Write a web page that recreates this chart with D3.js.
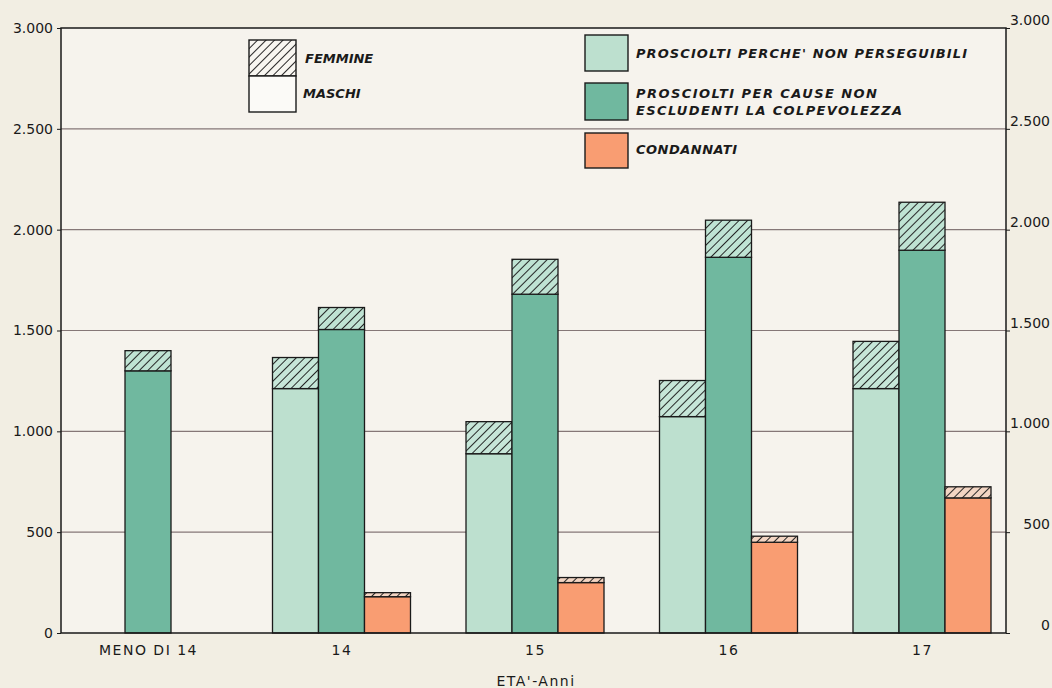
<!DOCTYPE html>
<html>
<head>
<meta charset="utf-8">
<script src="https://cdn.jsdelivr.net/npm/d3@7"></script>
<style>
  body { margin: 0; background: #f2eee3; }
  svg { display: block; }
  text { font-family: "DejaVu Sans", sans-serif; fill: #1a1a1a; }
  .leg { font-style: italic; font-weight: bold; font-size: 13px; }
</style>
</head>
<body>
<svg width="1052" height="688"></svg>
<script>
// eta' groups
const categories = ['MENO DI 14', '14', '15', '16', '17'];
// prosciolti perche' non perseguibili
const perseguibiliM = [0, 1212, 889, 1073, 1212];
const perseguibiliF = [0, 154, 159, 179, 234];
// prosciolti per cause non escludenti la colpevolezza
const colpevolezzaM = [1300, 1505, 1680, 1863, 1898];
const colpevolezzaF = [100, 109, 173, 184, 238];
// condannati
const condannatiM = [0, 180, 250, 450, 670];
const condannatiF = [0, 20, 25, 30, 55];
const yTicks = [0, 500, 1000, 1500, 2000, 2500, 3000];

const series = [
  {key: 'pers', m: perseguibiliM, f: perseguibiliF, color: '#bde0cf', hatchBg: '#c6e6d8'},
  {key: 'colp', m: colpevolezzaM, f: colpevolezzaF, color: '#70b89f', hatchBg: '#bfe3d3'},
  {key: 'cond', m: condannatiM, f: condannatiF, color: '#f99d72', hatchBg: '#f3d5c3'}
];

const svg = d3.select('svg');
const mLeft = 61, mRight = 1006, mTop = 28, mBottom = 633;

const itFmt = d3.formatLocale({decimal: ',', thousands: '.', grouping: [3], currency: ['', '']}).format(',d');

const y = d3.scaleLinear().domain([0, 3000]).range([mBottom, mTop]);
const x = d3.scalePoint().domain(categories).range([148, 922]);
const xs = d3.scaleBand().domain(series.map(s => s.key)).range([-69, 69]).padding(0);

// hatch patterns
const defs = svg.append('defs');
function hatch(id, bg) {
  const p = defs.append('pattern').attr('id', id)
    .attr('patternUnits', 'userSpaceOnUse')
    .attr('width', 6).attr('height', 6)
    .attr('patternTransform', 'rotate(45)');
  p.append('rect').attr('width', 6).attr('height', 6).attr('fill', bg);
  p.append('line').attr('x1', 0).attr('y1', 0).attr('x2', 0).attr('y2', 6)
    .attr('stroke', '#1c1c1c').attr('stroke-width', 1.9);
}
series.forEach(s => hatch('h-' + s.key, s.hatchBg));
hatch('h-legend', '#f8f6f1');

// plot background
svg.append('rect').attr('x', mLeft).attr('y', mTop)
  .attr('width', mRight - mLeft).attr('height', mBottom - mTop)
  .attr('fill', '#f6f3ed');

// grid
svg.append('g').selectAll('line').data(yTicks.filter(d => d > 0 && d < 3000)).join('line')
  .attr('x1', mLeft).attr('x2', mRight)
  .attr('y1', d => y(d)).attr('y2', d => y(d))
  .attr('stroke', '#857777').attr('stroke-width', 1.1);

// bars
series.forEach(s => {
  const g = svg.append('g');
  const rows = categories.map((c, i) => ({c, m: s.m[i], f: s.f[i]})).filter(d => d.m + d.f > 0);
  g.selectAll('rect.m').data(rows).join('rect')
    .attr('x', d => x(d.c) + xs(s.key))
    .attr('width', xs.bandwidth())
    .attr('y', d => y(d.m))
    .attr('height', d => y(0) - y(d.m))
    .attr('fill', s.color)
    .attr('stroke', '#1a1a1a').attr('stroke-width', 1.3);
  g.selectAll('rect.f').data(rows).join('rect')
    .attr('x', d => x(d.c) + xs(s.key))
    .attr('width', xs.bandwidth())
    .attr('y', d => y(d.m + d.f))
    .attr('height', d => y(d.m) - y(d.m + d.f))
    .attr('fill', 'url(#h-' + s.key + ')')
    .attr('stroke', '#1a1a1a').attr('stroke-width', 1.3);
});

// frame
svg.append('path')
  .attr('d', `M${mLeft},${mBottom}V${mTop}H${mRight}V${mBottom}H${mLeft}`)
  .attr('fill', 'none').attr('stroke', '#1a1a1a').attr('stroke-width', 1.5);

// axes
const yl = svg.append('g').attr('transform', `translate(${mLeft},0)`)
  .call(d3.axisLeft(y).tickValues(yTicks).tickFormat(itFmt).tickSize(4).tickPadding(4));
const yr = svg.append('g').attr('transform', `translate(${mRight},0)`)
  .call(d3.axisRight(y).tickValues(yTicks).tickFormat(itFmt).tickSize(4).tickPadding(4));
[yl, yr].forEach(a => {
  a.select('.domain').remove();
  a.selectAll('line').attr('stroke', '#1a1a1a');
  a.selectAll('text').attr('font-size', 14).attr('font-family', '"DejaVu Sans", sans-serif').attr('fill', '#1a1a1a');
});
yr.selectAll('text').attr('text-anchor', 'end').attr('x', 44).attr('dy', '-0.25em');

const xa = svg.append('g').attr('transform', `translate(0,${mBottom})`)
  .call(d3.axisBottom(x).tickSize(0).tickPadding(12));
xa.select('.domain').remove();
xa.selectAll('text').attr('font-size', 14).attr('font-family', '"DejaVu Sans", sans-serif')
  .attr('fill', '#1a1a1a').attr('letter-spacing', 1.5);

svg.append('text').attr('x', 536).attr('y', 686).attr('text-anchor', 'middle')
  .attr('font-size', 14).attr('letter-spacing', 1.5).text("ETA'-Anni");

// legend: sesso
svg.append('rect').attr('x', 249).attr('y', 40).attr('width', 47).attr('height', 36)
  .attr('fill', 'url(#h-legend)').attr('stroke', '#1a1a1a').attr('stroke-width', 1.4);
svg.append('rect').attr('x', 249).attr('y', 76).attr('width', 47).attr('height', 36)
  .attr('fill', '#fbfaf7').attr('stroke', '#1a1a1a').attr('stroke-width', 1.4);
svg.append('text').attr('class', 'leg').attr('x', 305).attr('y', 63)
  .attr('font-size', 12).text('FEMMINE');
svg.append('text').attr('class', 'leg').attr('x', 303).attr('y', 98)
  .attr('font-size', 12).text('MASCHI');

// legend: esito
const legItems = [
  {color: series[0].color, y0: 35, y1: 71, lines: [["PROSCIOLTI PERCHE' NON PERSEGUIBILI", 58, 331]]},
  {color: series[1].color, y0: 83, y1: 120, lines: [['PROSCIOLTI PER CAUSE NON', 98, 241], ['ESCLUDENTI LA COLPEVOLEZZA', 115, 266]]},
  {color: series[2].color, y0: 133, y1: 168, lines: [['CONDANNATI', 154, 101]]}
];
legItems.forEach(it => {
  svg.append('rect').attr('x', 585).attr('y', it.y0).attr('width', 43).attr('height', it.y1 - it.y0)
    .attr('fill', it.color).attr('stroke', '#1a1a1a').attr('stroke-width', 1.4);
  it.lines.forEach(l => {
    svg.append('text').attr('class', 'leg').attr('x', 636).attr('y', l[1])
      .attr('textLength', l[2]).attr('lengthAdjust', 'spacing').text(l[0]);
  });
});
</script>
</body>
</html>
